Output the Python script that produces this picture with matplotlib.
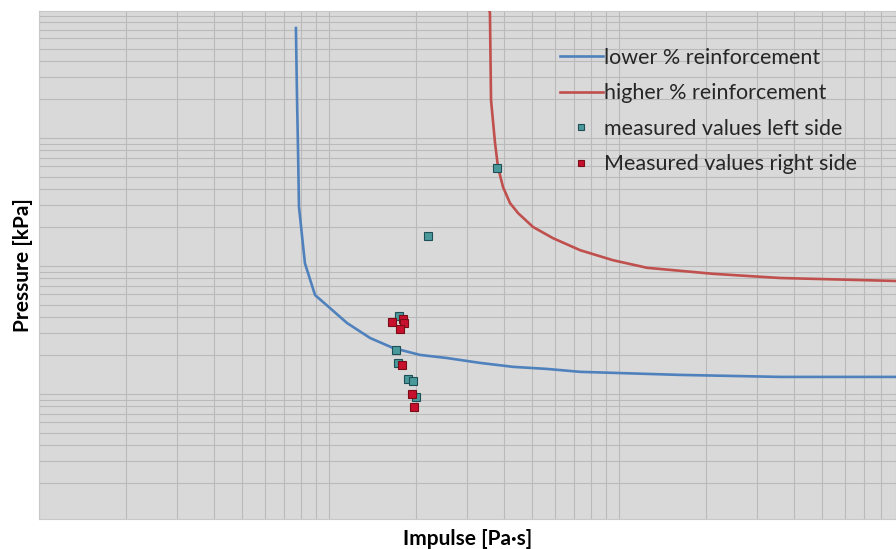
import numpy as np
import matplotlib
matplotlib.use("Agg")
import matplotlib.pyplot as plt
from matplotlib.ticker import LogLocator, NullFormatter

# pressure-impulse curves (impulse in Pa*s, pressure in kPa)
lower_impulse = [769, 776, 782, 788, 826, 895, 1007, 1153, 1385, 1662, 2059,
                 2552, 3317, 4310, 5643, 7338, 16230, 35900, 90200]
lower_pressure = [7228, 1982, 805, 289, 105, 59.3, 47, 35.9, 27.4, 22.9, 20.2,
                  19.1, 17.5, 16.3, 15.7, 14.9, 14.1, 13.6, 13.6]

higher_impulse = [3533, 3589, 3620, 3737, 3826, 3981, 4209, 4487, 5050, 5920,
                  7338, 9530, 12500, 21100, 35900, 90200]
higher_pressure = [11000, 9475, 1982, 914, 593, 414, 310, 259, 202, 165,
                   133, 111, 96.8, 86.9, 80.6, 76.4]

left_impulse = [3796, 2195, 1743, 1702, 1729, 1872, 1949, 1995]
left_pressure = [583, 172, 40.7, 22.1, 17.5, 13.1, 12.6, 9.5]

right_impulse = [1649, 1799, 1814, 1757, 1786, 1932, 1963]
right_pressure = [36.5, 38.6, 35.9, 32.2, 16.9, 10.0, 7.9]

plt.rcParams['font.family'] = ['Lato', 'DejaVu Sans']

fig = plt.figure(figsize=(8.96, 5.49), dpi=100)
ax = fig.add_axes([39 / 896, 1 - 519 / 549, 1 - 39 / 896, 508 / 549])
ax.set_facecolor('#d9d9d9')

ax.plot(lower_impulse, lower_pressure, color='#4f81bd', lw=1.9,
        label='lower % reinforcement', zorder=3)
ax.plot(higher_impulse, higher_pressure, color='#c0504d', lw=1.9,
        label='higher % reinforcement', zorder=3)
ax.plot(left_impulse, left_pressure, ls='none', marker='s', ms=5.5,
        mfc='#4a9a9c', mec='#1f4f55', mew=0.8,
        label='measured values left side', zorder=4)
ax.plot(right_impulse, right_pressure, ls='none', marker='s', ms=5.5,
        mfc='#c8102e', mec='#7a0c18', mew=0.8,
        label='Measured values right side', zorder=4)

ax.set_xscale('log')
ax.set_yscale('log')
ax.set_xlim(100, 10 ** (2 + 857 / 290))
ax.set_ylim(10 ** (4 - 509 / 128), 10 ** (4 - 1 / 128))

ax.xaxis.set_major_locator(LogLocator(base=10, numticks=20))
ax.xaxis.set_minor_locator(LogLocator(base=10, subs=np.arange(2, 10), numticks=20))
ax.yaxis.set_major_locator(LogLocator(base=10, numticks=20))
ax.yaxis.set_minor_locator(LogLocator(base=10, subs=np.arange(2, 10), numticks=20))
ax.grid(which='both', color='#bababa', lw=0.8)
ax.set_axisbelow(True)
ax.tick_params(which='both', length=0, labelleft=False, labelbottom=False)
ax.xaxis.set_minor_formatter(NullFormatter())
ax.yaxis.set_minor_formatter(NullFormatter())

for s in ax.spines.values():
    s.set_color('#c8c8c8')
    s.set_linewidth(0.8)

ax.set_xlabel('Impulse [Pa·s]', fontsize=15, fontweight='bold', labelpad=7)
ax.set_ylabel('Pressure [kPa]', fontsize=15, fontweight='bold', labelpad=4)

leg = ax.legend(loc='upper left', bbox_to_anchor=(0.585, 0.966), frameon=False,
                fontsize=15.5, handlelength=2.0, handletextpad=0.05,
                labelspacing=0.72, markerscale=0.7)
for t in leg.get_texts():
    t.set_color('#262626')

fig.savefig('out.png', dpi=100)
